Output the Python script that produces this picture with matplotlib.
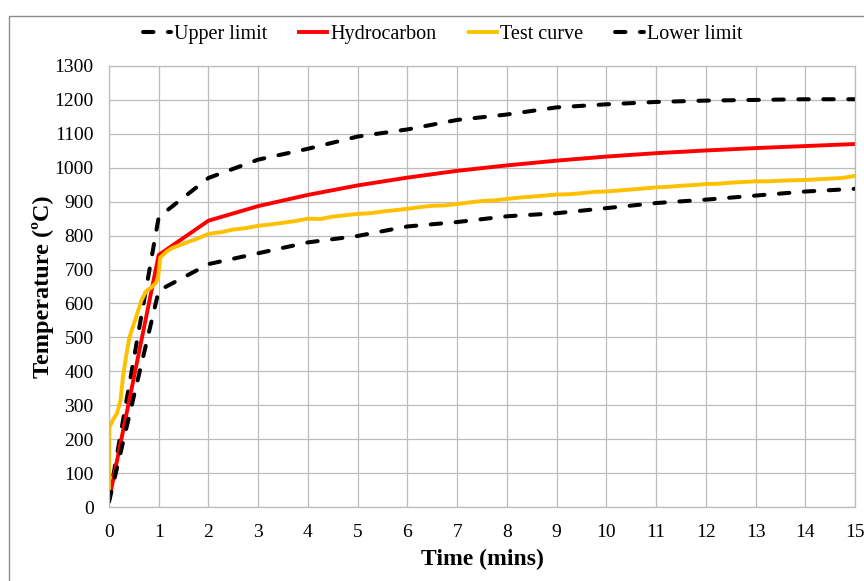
import matplotlib
matplotlib.use("Agg")
import matplotlib.pyplot as plt
from matplotlib.patches import Rectangle

# limit curves (time in minutes, temperature in degC)
limit_t = [0, 1, 2, 3, 4, 5, 6, 7, 8, 9, 10, 11, 12, 13, 14, 15]
upper_limit = [20, 855, 970, 1024, 1056, 1092, 1113, 1141, 1157, 1178, 1187, 1194, 1198, 1200, 1202, 1202]
lower_limit = [15, 638, 716, 748, 780, 799, 827, 840, 857, 866, 881, 896, 906, 918, 930, 938]

# hydrocarbon curve
hc_t = [0, 1, 2, 3, 4, 5, 6, 7, 8, 9, 10, 11, 12, 13, 14, 15]
hydrocarbon = [20, 743, 844, 887, 920, 948, 971, 991, 1007, 1021, 1033, 1043, 1051, 1058, 1064, 1070]

# measured test curve
test_t = [0, 0.01, 0.08, 0.16, 0.23, 0.28, 0.34, 0.41, 0.52, 0.65, 0.75, 0.85, 0.95, 0.99,
          1.03, 1.15, 1.25, 1.42, 1.6, 1.76,
          2.0, 2.25, 2.5, 2.75, 3.0, 3.25, 3.5, 3.75, 4.0, 4.25, 4.5, 4.75, 5.0, 5.25, 5.5, 5.75,
          6.0, 6.25, 6.5, 6.75, 7.0, 7.25, 7.5, 7.75, 8.0, 8.25, 8.5, 8.75, 9.0, 9.25, 9.5, 9.75,
          10.0, 10.25, 10.5, 10.75, 11.0, 11.25, 11.5, 11.75, 12.0, 12.25, 12.5, 12.75,
          13.0, 13.25, 13.5, 13.75, 14.0, 14.25, 14.5, 14.75, 15.0]
test_curve = [50, 235, 257, 276, 314, 382, 441, 500, 549, 608, 637, 647, 662, 681,
              735, 752, 762, 772, 782, 790,
              805, 810, 818, 822, 829, 833, 838, 843, 850, 849, 856, 860, 864, 866, 871, 875,
              879, 884, 888, 889, 893, 898, 902, 904, 908, 912, 915, 918, 921, 922, 925, 929,
              930, 933, 936, 939, 942, 944, 947, 949, 952, 953, 956, 958,
              960, 960, 962, 963, 964, 966, 968, 970, 976]

x_ticks = list(range(0, 16))
y_ticks = list(range(0, 1301, 100))

plt.rcParams['font.family'] = ['Liberation Serif', 'DejaVu Serif']

fig = plt.figure(figsize=(8.64, 5.81), dpi=100)
ax = fig.add_axes([109 / 864, 1 - 507 / 581, (855 - 109) / 864, (507 - 66) / 581])

# outer chart border
fig.patches.append(Rectangle((9 / 864, -0.1), 1.2, 1 - 16 / 581 + 0.1, transform=fig.transFigure,
                             fill=False, edgecolor='#8c8c8c', linewidth=1.0, clip_on=False))

dash = dict(color='black', linewidth=2.9, dashes=(2.6, 3.6), dash_capstyle='round')
ax.plot(limit_t, upper_limit, label='Upper limit', **dash)
ax.plot(hc_t, hydrocarbon, color='#ff0000', linewidth=2.8, label='Hydrocarbon')
ax.plot(test_t, test_curve, color='#ffc000', linewidth=2.8, label='Test curve')
ax.plot(limit_t, lower_limit, label='Lower limit', **dash)

ax.set_xlim(0, 15)
ax.set_ylim(0, 1300)
ax.set_xticks(x_ticks)
ax.set_yticks(y_ticks)
ax.tick_params(length=0, labelsize=14)
ax.tick_params(axis='y', pad=11)
ax.tick_params(axis='x', pad=12)
ax.grid(True, color='#bcbcbc', linewidth=0.9)
ax.set_axisbelow(True)
for s in ax.spines.values():
    s.set_color('#bcbcbc')
    s.set_linewidth(0.9)

ax.set_xlabel('Time (mins)', fontsize=17, fontweight='bold', labelpad=6)
ax.set_ylabel('Temperature (ºC)', fontsize=17.5, fontweight='bold', labelpad=0)

fig.legend(loc='center', bbox_to_anchor=(0.512, 0.940), ncol=4, frameon=False,
           fontsize=14.5, handlelength=1.4, handletextpad=0.15, columnspacing=1.6)

fig.savefig('out.png', dpi=100)
